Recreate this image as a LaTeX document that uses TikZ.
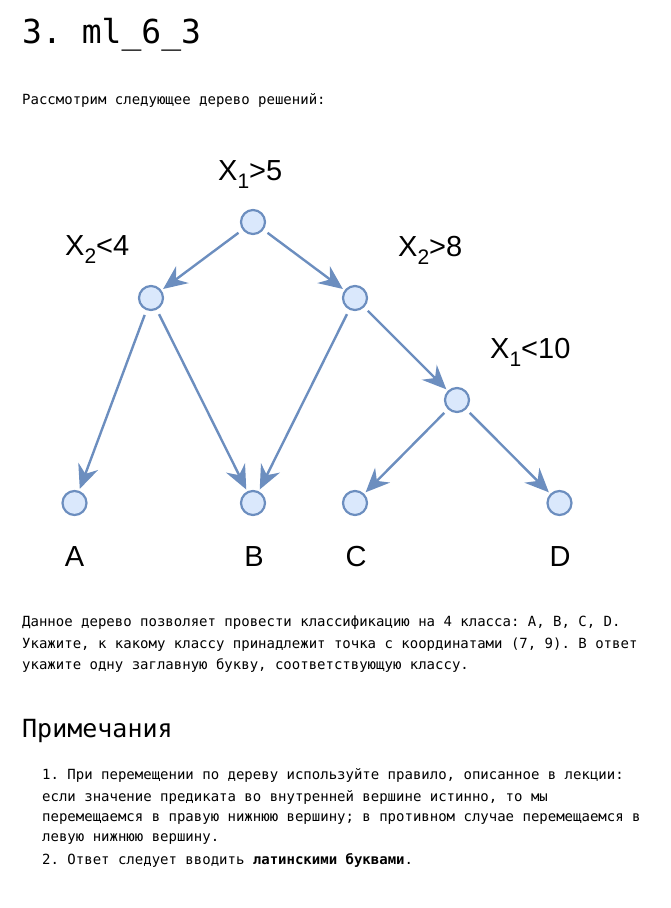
\documentclass[tikz,border=0pt]{standalone}
\usepackage{fontspec}
\setmonofont{DejaVu Sans Mono}
\newfontfamily\treefont{Liberation Sans}
\usetikzlibrary{arrows.meta}
\definecolor{nodefill}{HTML}{DAE8FC}
\definecolor{nodeline}{HTML}{6C8EBF}
\newcommand\lowsub[1]{\raisebox{-0.28em}{\fontsize{21}{21}\selectfont#1}}

\begin{document}
\begin{tikzpicture}[x=1pt, y=-1pt,
 vertex/.style={circle, draw=nodeline, fill=nodefill, line width=2.2pt, minimum size=24pt, inner sep=0pt},
 cond/.style={font=\treefont\fontsize{29}{29}\selectfont, anchor=base west, inner sep=0pt},
 leaf/.style={font=\treefont\fontsize{29}{29}\selectfont, anchor=base, inner sep=0pt},
 branch/.style={-{Stealth[length=24pt 0, width=21pt 0, inset=8pt 0]}, draw=nodeline, line width=2.4pt, shorten <=5pt, shorten >=2pt},
 txt/.style={font=\ttfamily\fontsize{14}{21}\selectfont, anchor=base west, inner sep=0pt}]
\useasboundingbox (0,0) rectangle (670,908);
\node[anchor=base west, font=\ttfamily\fontsize{33}{33}\selectfont, inner sep=0pt] (title) at (22,43) {3. ml\_6\_3};
\node[txt] (intro) at (22,104.5) {Рассмотрим следующее дерево решений:};

\node[vertex] (root) at (253,222) {};
\node[vertex] (n2l) at (151,298) {};
\node[vertex] (n2r) at (355,298) {};
\node[vertex] (n3) at (457,400) {};
\node[vertex] (la) at (74.5,503) {};
\node[vertex] (lb) at (253,503) {};
\node[vertex] (lc) at (355,503) {};
\node[vertex] (ld) at (559.5,503) {};
\node[cond] (c1) at (218,180) {X\lowsub{1}>5};
\node[cond] (c2) at (65,255) {X\lowsub{2}<4};
\node[cond] (c3) at (398,256) {X\lowsub{2}>8};
\node[cond] (c4) at (490,358) {X\lowsub{1}<10};
\node[leaf] (ta) at (74.5,566) {A};
\node[leaf] (tb) at (254,566) {B};
\node[leaf] (tc) at (356,566) {C};
\node[leaf] (td) at (560,566) {D};
\draw[branch] (root)--(n2l); \draw[branch] (root)--(n2r);
\draw[branch] (n2l)--(la); \draw[branch] (n2l)--(lb);
\draw[branch] (n2r)--(lb); \draw[branch] (n2r)--(n3);
\draw[branch] (n3)--(lc); \draw[branch] (n3)--(ld);

\node[txt] (p1) at (22,626.5) {Данное дерево позволяет провести классификацию на 4 класса: A, B, C, D.};
\node[txt] (p2) at (22,648) {Укажите, к какому классу принадлежит точка с координатами (7, 9). В ответ};
\node[txt] (p3) at (22,669.5) {укажите одну заглавную букву, соответствующую классу.};
\node[anchor=base west, font=\ttfamily\fontsize{25}{25}\selectfont, inner sep=0pt] (notes) at (22,737) {Примечания};
\node[txt] (q1) at (42,779.5) {1. При перемещении по дереву используйте правило, описанное в лекции:};
\node[txt] (q2) at (42,801) {если значение предиката во внутренней вершине истинно, то мы};
\node[txt] (q3) at (42,821.5) {перемещаемся в правую нижнюю вершину; в противном случае перемещаемся в};
\node[txt] (q4) at (42,841.5) {левую нижнюю вершину.};
\node[txt] (q5) at (42,864.5) {2. Ответ следует вводить \textbf{латинскими буквами}.};
\end{tikzpicture}
\end{document}
